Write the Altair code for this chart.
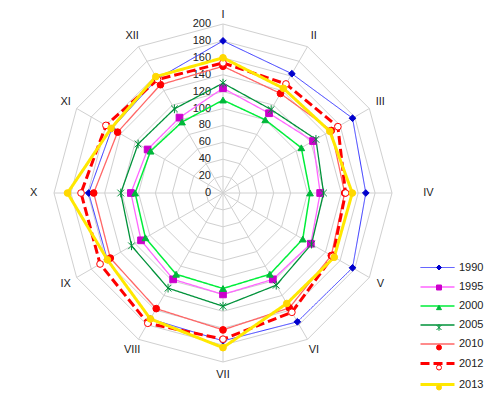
import altair as alt
import pandas as pd

months = ["I", "II", "III", "IV", "V", "VI", "VII", "VIII", "IX", "X", "XI", "XII"]
years = ["1990", "1995", "2000", "2005", "2010", "2012", "2013"]

v1990 = [180, 163, 177, 169, 177, 176, 175, 172, 158, 159, 152, 156]
v1995 = [124, 109, 123, 115, 120, 118, 120, 118, 112, 109, 103, 103]
v2000 = [110, 100, 107, 103, 109, 111, 113, 111, 106, 104, 99, 97]
v2005 = [130, 114, 127, 119, 121, 126, 134, 130, 125, 121, 116, 115]
v2010 = [150, 136, 148, 144, 148, 157, 162, 158, 154, 153, 144, 148]
v2012 = [154, 149, 157, 145, 150, 163, 173, 178, 168, 168, 160, 155]
v2013 = [160, 143, 146, 153, 152, 151, 183, 172, 158, 184, 153, 159]
series_values = [v1990, v1995, v2000, v2005, v2010, v2012, v2013]

ticks = [0, 20, 40, 60, 80, 100, 120, 140, 160, 180, 200]

line_colors = ["#3333FF", "#FF66FF", "#00EE3A", "#00923A", "#FF6666", "#FF0000", "#FFE800"]
line_dash = [[1, 0], [1, 0], [1, 0], [1, 0], [1, 0], [9, 4], [1, 0]]
line_width = [1, 1.3, 1.5, 1.3, 1.3, 3, 3]
mk_shapes = ["diamond", "square", "triangle-up",
             "M-1,-1L1,1M1,-1L-1,1M0,-1.3L0,1.3", "circle", "circle", "circle"]
mk_fill = ["#0000CC", "#CC00CC", "#00B83A", "transparent", "#FF0000", "#FFFFFF", "#FFD800"]
mk_stroke = ["#0000CC", "#CC00CC", "#00B83A", "#00923A", "#FF0000", "#FF0000", "#FFD800"]

# long tables
rows = []
for yr, vals in zip(years, series_values):
    for k in range(13):
        rows.append({"series": yr, "idx": k, "value": vals[k % 12]})
df_lines = pd.DataFrame(rows)
df_pts = df_lines[df_lines["idx"] < 12].rename(columns={"series": "series_p"})

ring_rows = []
for t in ticks[1:]:
    for k in range(13):
        ring_rows.append({"ring": t, "idx": k, "value": t})
df_rings = pd.DataFrame(ring_rows)
df_spokes = pd.DataFrame({"idx": list(range(12)), "value": [ticks[-1]] * 12})
df_ticks = pd.DataFrame({"value": ticks, "lab": [str(t) for t in ticks]})
df_months = pd.DataFrame({"idx": list(range(12)), "lab": months})

# geometry of the plot area
W, H = 484, 386
cx, cy = 215, 185
k = 169 / 200.0
xdom = [-cx / k, (W - cx) / k]
ydom = [-(H - cy) / k, cy / k]
xs = alt.Scale(domain=xdom, nice=False, zero=False)
ys = alt.Scale(domain=ydom, nice=False, zero=False)

def polar(ch, rexpr="datum.value"):
    return ch.transform_calculate(
        px=f"({rexpr})*sin(datum.idx*PI/6)",
        py=f"({rexpr})*cos(datum.idx*PI/6)",
    )

X = alt.X("px:Q", scale=xs, axis=None)
Y = alt.Y("py:Q", scale=ys, axis=None)

grid_color = "#D0D0D0"
font = "Liberation Sans"

rings = polar(alt.Chart(df_rings).mark_line(color=grid_color, strokeWidth=1)).encode(
    x=X, y=Y, detail="ring:N", order="idx:Q"
)

spokes = alt.Chart(df_spokes).mark_rule(color=grid_color, strokeWidth=1).transform_calculate(
    px="datum.value*sin(datum.idx*PI/6)",
    py="datum.value*cos(datum.idx*PI/6)",
    zx="0", zy="0",
).encode(x=alt.X("zx:Q", scale=xs, axis=None), y=alt.Y("zy:Q", scale=ys, axis=None),
         x2="px:Q", y2="py:Q")

tick_text = alt.Chart(df_ticks).mark_text(
    align="right", baseline="middle", dx=-12, font=font, fontSize=11, color="#222222"
).transform_calculate(px="0", py="datum.value").encode(
    x=X, y=Y, text="lab:N"
)

month_text = polar(
    alt.Chart(df_months).mark_text(
        align="center", baseline="middle", font=font, fontSize=11, color="#222222"
    ),
    rexpr="datum.idx == 0 ? 211 : datum.idx == 3 ? 243 : datum.idx == 9 ? 224 : 215",
).encode(x=X, y=Y, text="lab:N")

leg_common = dict(
    orient="none", title=None, padding=0, labelFont=font, labelFontSize=11,
    labelColor="#222222", rowPadding=8, legendY=254,
)

line_leg = alt.Legend(symbolType="M-3.4,0H3.4", symbolSize=100,
                      legendX=423, labelOffset=15, **leg_common)
lines = polar(alt.Chart(df_lines).mark_line()).encode(
    x=X, y=Y, order="idx:Q",
    stroke=alt.Stroke("series:N", scale=alt.Scale(domain=years, range=line_colors), legend=line_leg),
    strokeDash=alt.StrokeDash("series:N", scale=alt.Scale(domain=years, range=line_dash), legend=line_leg),
    strokeWidth=alt.StrokeWidth("series:N", scale=alt.Scale(type="ordinal", domain=years, range=line_width),
                                legend=line_leg),
)

pt_leg = alt.Legend(symbolSize=25, symbolStrokeWidth=1, legendX=425.5, labelOffset=2,
                    labelExpr="''", **leg_common)
points = polar(alt.Chart(df_pts).mark_point(filled=True, size=45, strokeWidth=1, opacity=1)).encode(
    x=X, y=Y,
    shape=alt.Shape("series_p:N", scale=alt.Scale(domain=years, range=mk_shapes), legend=pt_leg),
    fill=alt.Fill("series_p:N", scale=alt.Scale(domain=years, range=mk_fill), legend=pt_leg),
    stroke=alt.Stroke("series_p:N", scale=alt.Scale(domain=years, range=mk_stroke), legend=pt_leg),
)

chart = alt.layer(rings, spokes, tick_text, month_text, lines, points).resolve_scale(
    stroke="independent", shape="independent", fill="independent",
    strokeDash="independent", strokeWidth="independent",
).properties(
    width=W, height=H, padding=0, autosize=alt.AutoSizeParams(type="none")
).configure_view(strokeWidth=0)

chart.save("out.html", embed_options={"renderer": "svg", "actions": False})
